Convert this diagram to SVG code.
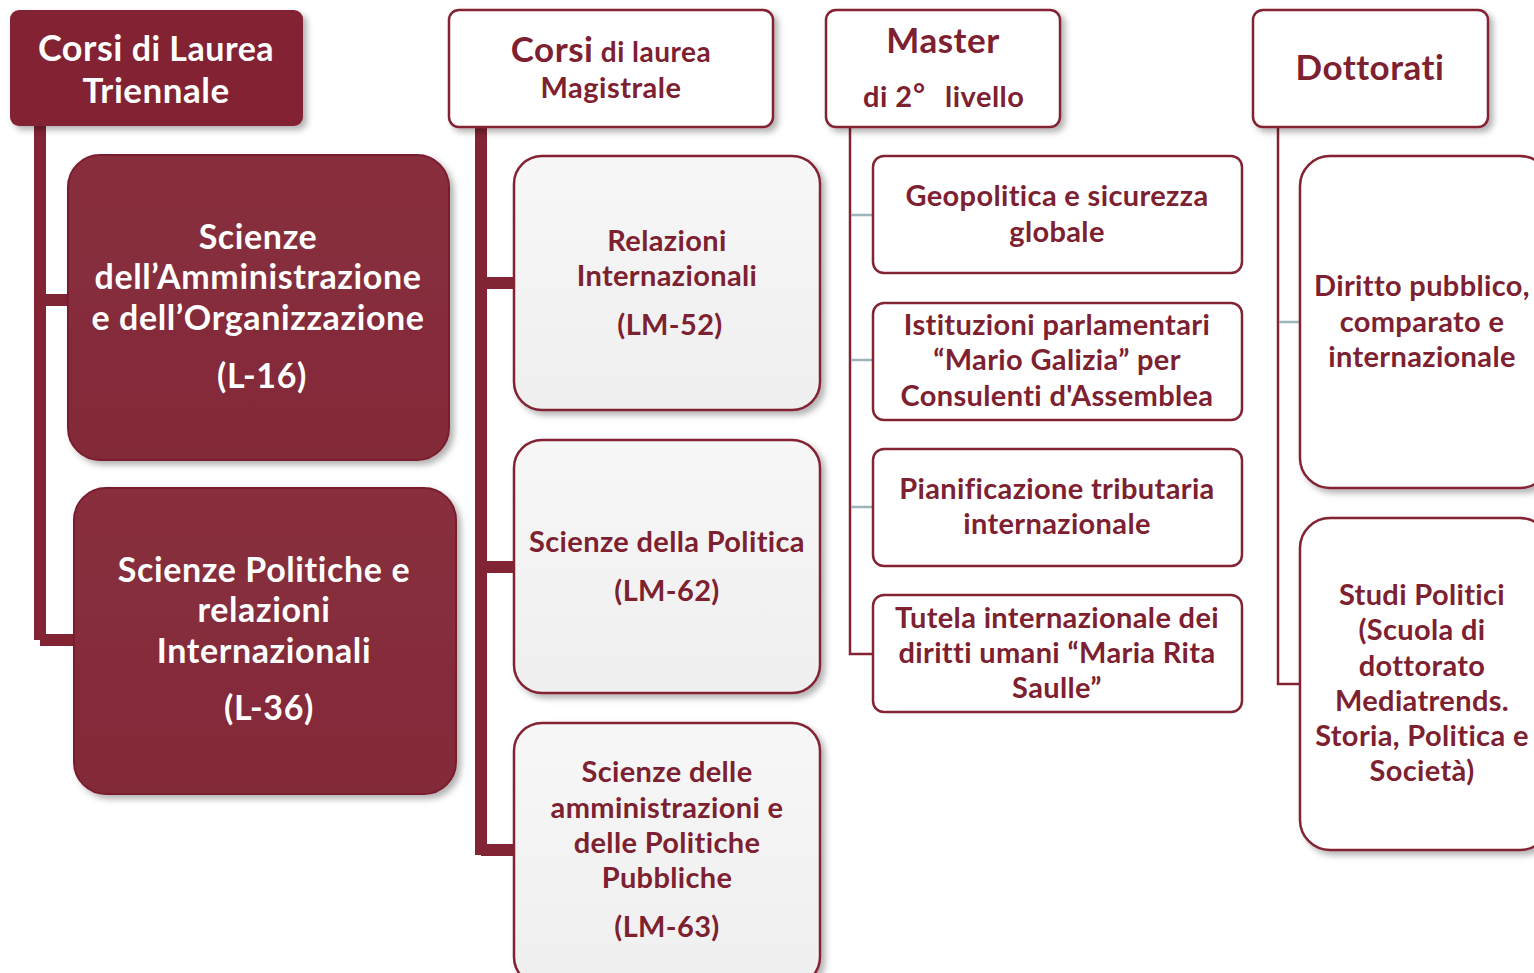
<svg xmlns="http://www.w3.org/2000/svg" width="1534" height="973" viewBox="0 0 1534 973">
<defs>
<filter id="sh" x="-10%" y="-10%" width="130%" height="130%">
<feDropShadow dx="4" dy="4" stdDeviation="3" flood-color="#000" flood-opacity="0.3"/>
</filter>
<linearGradient id="gRed" x1="0" y1="0" x2="0" y2="1">
<stop offset="0" stop-color="#882f3e"/><stop offset="1" stop-color="#832a38"/>
</linearGradient>
<linearGradient id="gGray" x1="0" y1="0" x2="0" y2="1">
<stop offset="0" stop-color="#f7f7f7"/><stop offset="1" stop-color="#efefef"/>
</linearGradient>
</defs>
<style>
text{font-family:Lato,"Liberation Sans",sans-serif;font-weight:bold;text-anchor:middle}
text.st{text-anchor:start}
.w{fill:#ffffff}
.r{fill:#7d2131}
.hdrR{fill:#822433}
.hdrW{fill:#ffffff;stroke:#822433;stroke-width:2.5}
.tri{fill:url(#gRed);stroke:#7a1f2e;stroke-width:2}
.mag{fill:url(#gGray);stroke:#822433;stroke-width:2.5}
.mas{fill:#ffffff;stroke:#822433;stroke-width:2.5}
.thick{stroke:#822433;stroke-width:12;fill:none}
.thin{stroke:#822433;stroke-width:2.5;fill:none}
.teal{stroke:#9bb5ba;stroke-width:2.5;fill:none}
.s34{font-size:34px;letter-spacing:0.6px}
.s29{font-size:29px;letter-spacing:0.35px}
.h1{font-size:35px;letter-spacing:0.5px}
.h2{font-size:29px;letter-spacing:0.5px}
</style>
<g id="connectors">
<path class="thick" d="M40 126 V640 M40 300 H70 M40 640 H76"/>
<path class="thick" d="M481 126 V855 M481 283 H516 M481 567 H516 M481 850 H516"/>
<path class="thin" d="M850 126 V654 H875"/>
<path class="teal" d="M851 215 H874 M851 360 H874 M851 507 H874"/>
<path class="thin" d="M1278 126 V684 H1302"/>
<path class="teal" d="M1279 322 H1301"/>
</g>
<g id="hdr-triennale">
<rect class="hdrR" x="10" y="10" width="293" height="116" rx="9" filter="url(#sh)"/>
<text class="w" x="156" y="61" letter-spacing="0.5"><tspan font-size="36">Corsi</tspan><tspan font-size="34"> di Laurea</tspan></text>
<text class="w h1" x="156" y="103">Triennale</text>
</g>
<g id="hdr-magistrale">
<rect class="hdrW" x="449" y="10" width="324" height="117" rx="10" filter="url(#sh)"/>
<text class="r" x="611" y="62" letter-spacing="0.5"><tspan font-size="35">Corsi</tspan><tspan font-size="28"> di laurea</tspan></text>
<text class="r h2" x="611" y="98">Magistrale</text>
</g>
<g id="hdr-master">
<rect class="hdrW" x="826" y="10" width="234" height="117" rx="10" filter="url(#sh)"/>
<text class="r h1" x="943" y="53">Master</text>
<text class="r h2 st" x="863" y="107">di 2<tspan x="913" dy="-3">°</tspan><tspan x="945" dy="3">livello</tspan></text>
</g>
<g id="hdr-dottorati">
<rect class="hdrW" x="1253" y="10" width="235" height="117" rx="10" filter="url(#sh)"/>
<text class="r h1" x="1370" y="80">Dottorati</text>
</g>
<g id="tri-l16">
<rect class="tri" x="68" y="155" width="381" height="305" rx="32" filter="url(#sh)"/>
<text class="w s34" x="258" y="249">Scienze</text>
<text class="w s34" x="258" y="289">dell’Amministrazione</text>
<text class="w s34" x="258" y="330">e dell’Organizzazione</text>
<text class="w s34" x="262" y="388">(L-16)</text>
</g>
<g id="tri-l36">
<rect class="tri" x="74" y="488" width="382" height="306" rx="32" filter="url(#sh)"/>
<text class="w s34" x="264" y="582">Scienze Politiche e</text>
<text class="w s34" x="264" y="622">relazioni</text>
<text class="w s34" x="264" y="663">Internazionali</text>
<text class="w s34" x="269" y="720">(L-36)</text>
</g>
<g id="mag-lm52">
<rect class="mag" x="514" y="156" width="306" height="254" rx="28" filter="url(#sh)"/>
<text class="r s29" x="667" y="251">Relazioni</text>
<text class="r s29" x="667" y="286">Internazionali</text>
<text class="r s29" x="670" y="335">(LM-52)</text>
</g>
<g id="mag-lm62">
<rect class="mag" x="514" y="440" width="306" height="253" rx="28" filter="url(#sh)"/>
<text class="r s29" x="667" y="552">Scienze della Politica</text>
<text class="r s29" x="667" y="601">(LM-62)</text>
</g>
<g id="mag-lm63">
<rect class="mag" x="514" y="723" width="306" height="262" rx="28" filter="url(#sh)"/>
<text class="r s29" x="667" y="782">Scienze delle</text>
<text class="r s29" x="667" y="818">amministrazioni e</text>
<text class="r s29" x="667" y="853">delle Politiche</text>
<text class="r s29" x="667" y="888">Pubbliche</text>
<text class="r s29" x="667" y="937">(LM-63)</text>
</g>
<g id="mas-geo">
<rect class="mas" x="873" y="156" width="369" height="117" rx="11"/>
<text class="r s29" x="1057" y="206">Geopolitica e sicurezza</text>
<text class="r s29" x="1057" y="242">globale</text>
</g>
<g id="mas-ist">
<rect class="mas" x="873" y="303" width="369" height="117" rx="11"/>
<text class="r s29" x="1057" y="335">Istituzioni parlamentari</text>
<text class="r s29" x="1057" y="370">“Mario Galizia” per</text>
<text class="r s29" x="1057" y="406">Consulenti d'Assemblea</text>
</g>
<g id="mas-pian">
<rect class="mas" x="873" y="449" width="369" height="117" rx="11"/>
<text class="r s29" x="1057" y="499">Pianificazione tributaria</text>
<text class="r s29" x="1057" y="534">internazionale</text>
</g>
<g id="mas-tut">
<rect class="mas" x="873" y="595" width="369" height="117" rx="11"/>
<text class="r s29" x="1057" y="628">Tutela internazionale dei</text>
<text class="r s29" x="1057" y="663">diritti umani “Maria Rita</text>
<text class="r s29" x="1057" y="698">Saulle”</text>
</g>
<g id="dot-diritto">
<rect class="mas" x="1300" y="156" width="250" height="332" rx="30" filter="url(#sh)"/>
<text class="r s29" x="1422" y="296">Diritto pubblico,</text>
<text class="r s29" x="1422" y="332">comparato e</text>
<text class="r s29" x="1422" y="367">internazionale</text>
</g>
<g id="dot-studi">
<rect class="mas" x="1300" y="518" width="250" height="332" rx="30" filter="url(#sh)"/>
<text class="r s29" x="1422" y="605">Studi Politici</text>
<text class="r s29" x="1422" y="640">(Scuola di</text>
<text class="r s29" x="1422" y="676">dottorato</text>
<text class="r s29" x="1422" y="711">Mediatrends.</text>
<text class="r s29" x="1422" y="746">Storia, Politica e</text>
<text class="r s29" x="1422" y="781">Società)</text>
</g>
</svg>
